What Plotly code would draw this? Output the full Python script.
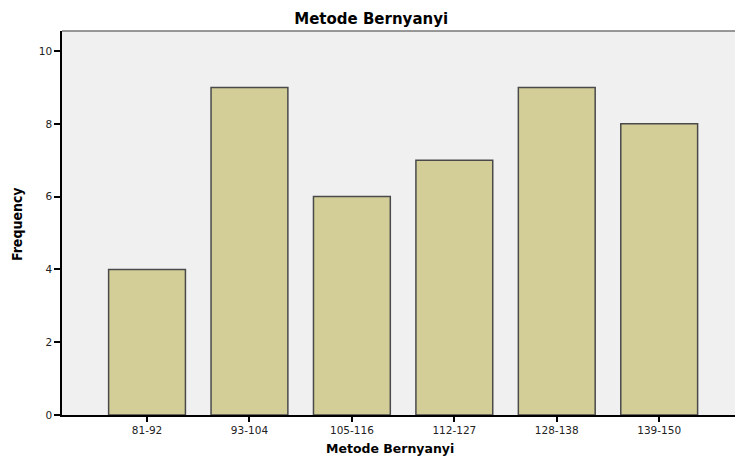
import plotly.graph_objects as go

categories = ["81-92", "93-104", "105-116", "112-127", "128-138", "139-150"]
frequency = [4, 9, 6, 7, 9, 8]
y_ticks = [0, 2, 4, 6, 8, 10]

fig = go.Figure(go.Bar(
    x=categories, y=frequency,
    width=0.75,
    marker=dict(color="#d3ce98", line=dict(color="#4a4a4a", width=1.5)),
))

fig.update_layout(
    width=735, height=457,
    margin=dict(l=62, r=0, t=31, b=42),
    paper_bgcolor="white",
    plot_bgcolor="#f0f0f0",
    showlegend=False,
    title=dict(text="<b>Metode Bernyanyi</b>", x=0.505, xanchor="center", y=0.958, yanchor="middle",
               font=dict(family="DejaVu Sans", size=15, color="black")),
    font=dict(family="DejaVu Sans", color="black"),
)
fig.update_xaxes(
    type="category", range=[-0.83, 5.74],
    showline=True, linecolor="black", linewidth=1.5,
    ticks="outside", ticklen=5, tickcolor="black", tickwidth=1.5,
    tickfont=dict(family="DejaVu Sans", size=10.5, color="#222"),
    showgrid=False, zeroline=False,
)
fig.update_yaxes(
    range=[0, 10.55], tickvals=y_ticks,
    showline=True, linecolor="black", linewidth=1.5,
    ticks="outside", ticklen=6, tickcolor="black", tickwidth=1.5,
    tickfont=dict(family="DejaVu Sans", size=10.5, color="#222"),
    showgrid=False, zeroline=False,
)
fig.add_annotation(text="<b>Metode Bernyanyi</b>", xref="paper", yref="paper",
                   x=0.487, y=-0.088, xanchor="center", yanchor="middle", showarrow=False,
                   font=dict(family="DejaVu Sans", size=12.5, color="black"))
fig.add_annotation(text="<b>Frequency</b>", xref="paper", yref="paper",
                   x=-0.067, y=0.497, xanchor="center", yanchor="middle", showarrow=False,
                   textangle=-90,
                   font=dict(family="Liberation Sans Narrow, DejaVu Sans Condensed, Arial", size=14, color="black"))
# top border of plot area
fig.add_shape(type="line", xref="paper", yref="paper", x0=0, x1=1, y0=1, y1=1,
              line=dict(color="#777777", width=1.5))

fig.write_html("out.html", config={"displayModeBar": False},
               post_script="document.body.style.margin='0';document.body.style.overflow='hidden';")
